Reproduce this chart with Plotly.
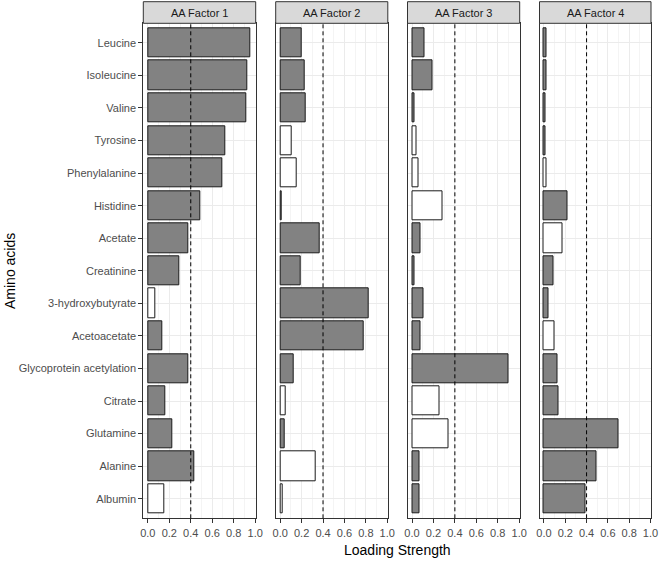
import plotly.graph_objects as go

# categories, top to bottom
amino_acids = ["Leucine", "Isoleucine", "Valine", "Tyrosine", "Phenylalanine",
               "Histidine", "Acetate", "Creatinine", "3-hydroxybutyrate",
               "Acetoacetate", "Glycoprotein acetylation", "Citrate",
               "Glutamine", "Alanine", "Albumin"]

factors = ["AA Factor 1", "AA Factor 2", "AA Factor 3", "AA Factor 4"]

# signed loadings (negative = white bar)
factor1 = [0.95, 0.93, 0.915, 0.725, 0.69, 0.49, 0.375, 0.29, -0.07,
           0.135, 0.375, 0.165, 0.23, 0.43, -0.15]
factor2 = [0.20, 0.23, 0.24, -0.106, -0.15, 0.012, 0.37, 0.19, 0.83,
           0.78, 0.13, -0.056, 0.04, -0.33, -0.02]
factor3 = [0.115, 0.19, 0.02, -0.04, -0.065, -0.28, 0.075, 0.02, 0.105,
           0.075, 0.90, -0.26, -0.34, 0.07, 0.07]
factor4 = [0.025, 0.025, 0.015, 0.015, -0.025, 0.22, -0.17, 0.09, 0.045,
           -0.10, 0.13, 0.14, 0.70, 0.49, 0.39]
loadings = [factor1, factor2, factor3, factor4]

cutoff = 0.4

W, H = 660, 561


def fx(px):
    return px / W


def fy(py):
    return 1 - py / H


# panel pixel extents (left, right) and vertical extents
panel_x = [(143.3, 255.7), (275.7, 387.8), (407.5, 519.7), (539.5, 651.0)]
panel_top, panel_bot = 23.3, 518.3
strip_top = 1.7

GREY = "#828282"
EDGE = "#1a1a1a"
FRAME = "#333333"

fig = go.Figure()

for i, (name, vals) in enumerate(zip(factors, loadings)):
    n = "" if i == 0 else str(i + 1)
    fig.add_trace(go.Bar(
        x=[abs(v) for v in vals],
        y=amino_acids,
        orientation="h",
        width=0.9,
        marker=dict(color=[GREY if v >= 0 else "white" for v in vals],
                    line=dict(color=EDGE, width=1)),
        xaxis="x" + n, yaxis="y" + n,
        showlegend=False,
        hoverinfo="x+y",
    ))

    x0, x1 = panel_x[i]
    fig.update_layout(**{
        "xaxis" + n: dict(
            domain=[fx(x0), fx(x1)],
            anchor="y" + n,
            range=[-0.042, 1.005],
            tickvals=[0, 0.2, 0.4, 0.6, 0.8, 1.0],
            ticktext=["0.0", "0.2", "0.4", "0.6", "0.8", "1.0"],
            ticks="outside", ticklen=4, tickcolor=FRAME,
            tickfont=dict(size=11, color="#4d4d4d"),
            showgrid=True, gridcolor="#ebebeb", gridwidth=1,
            minor=dict(tick0=0, dtick=0.1, showgrid=True,
                       gridcolor="#f4f4f4", gridwidth=0.6),
            showline=True, mirror=True, linecolor=FRAME, linewidth=1,
            zeroline=False, fixedrange=True,
        ),
        "yaxis" + n: dict(
            domain=[fy(panel_bot), fy(panel_top)],
            anchor="x" + n,
            type="category",
            categoryorder="array", categoryarray=amino_acids,
            range=[len(amino_acids) - 0.4, -0.6],
            showticklabels=(i == 0),
            ticks="outside" if i == 0 else "", ticklen=4, tickcolor=FRAME,
            tickfont=dict(size=11, color="#4d4d4d"),
            showgrid=True, gridcolor="#ebebeb", gridwidth=1,
            showline=True, mirror=True, linecolor=FRAME, linewidth=1,
            zeroline=False, fixedrange=True,
        ),
    })

    # cut-off line
    fig.add_shape(type="line", xref="x" + n, yref="y" + n + " domain",
                  x0=cutoff, x1=cutoff, y0=0, y1=1,
                  line=dict(color="black", width=1, dash="4px,3px"))

    # facet strip
    fig.add_shape(type="rect", xref="x" + n + " domain", yref="paper",
                  x0=0, x1=1, y0=fy(panel_top), y1=fy(strip_top),
                  fillcolor="#d9d9d9", line=dict(color=FRAME, width=1))
    fig.add_annotation(text=name, xref="x" + n + " domain", yref="paper",
                       x=0.5, y=fy((panel_top + strip_top) / 2),
                       xanchor="center", yanchor="middle",
                       showarrow=False, font=dict(size=11, color="#1a1a1a"))

fig.add_annotation(text="Loading Strength", xref="paper", yref="paper",
                   x=fx(397), y=fy(550), xanchor="center", yanchor="middle",
                   showarrow=False, font=dict(size=14, color="black"))
fig.add_annotation(text="Amino acids", xref="paper", yref="paper",
                   x=fx(10), y=fy(271), xanchor="center", yanchor="middle",
                   textangle=-90, showarrow=False,
                   font=dict(size=14, color="black"))

fig.update_layout(
    width=W, height=H,
    margin=dict(l=0, r=0, t=0, b=0, autoexpand=False),
    paper_bgcolor="white", plot_bgcolor="white",
    font=dict(family="Liberation Sans, Arial, sans-serif"),
    bargap=0,
)

# drop the browser's default 8px body margin so the figure sits in the corner
fig.write_html("out.html",
               config={"displayModeBar": False},
               post_script="document.body.style.margin = '0px';")
